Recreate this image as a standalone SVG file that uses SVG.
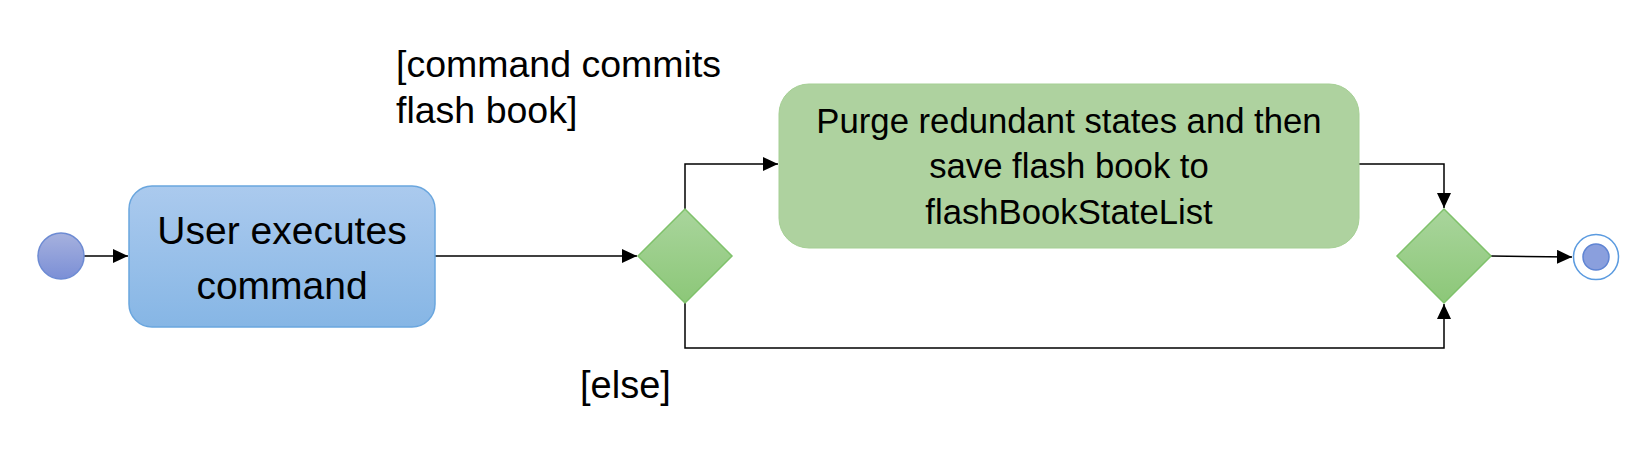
<svg xmlns="http://www.w3.org/2000/svg" width="1650" height="465" viewBox="0 0 1650 465">
<style>
.t{font-family:"Liberation Sans",Arial,sans-serif;fill:#000;}
.c{fill:none;stroke:#000;stroke-width:1.5;}
</style>
<defs>
<marker id="ah" markerWidth="16" markerHeight="14" refX="15" refY="7" orient="auto" markerUnits="userSpaceOnUse">
<path d="M0,0 L15,7 L0,14 Z" fill="#000"/>
</marker>
<linearGradient id="gBlue" x1="0" y1="0" x2="0" y2="1"><stop offset="0" stop-color="#abcaee"/><stop offset="1" stop-color="#86b6e5"/></linearGradient>
<linearGradient id="gStart" x1="0" y1="0" x2="0" y2="1"><stop offset="0" stop-color="#a6b1de"/><stop offset="1" stop-color="#7b8fd6"/></linearGradient>
<linearGradient id="gGreen" x1="0" y1="0" x2="0" y2="1"><stop offset="0" stop-color="#a9d59c"/><stop offset="1" stop-color="#8cc778"/></linearGradient>
</defs>
<g id="connectors">
<path class="c" d="M84,256 L128,256" marker-end="url(#ah)"/>
<path class="c" d="M435,256 L637,256" marker-end="url(#ah)"/>
<path class="c" d="M685,209 L685,164 L778,164" marker-end="url(#ah)"/>
<path class="c" d="M1359,164 L1444,164 L1444,208" marker-end="url(#ah)"/>
<path class="c" d="M685,303 L685,348 L1444,348 L1444,304" marker-end="url(#ah)"/>
<path class="c" d="M1491,256 L1572,257" marker-end="url(#ah)"/>
</g>
<g id="start">
<circle cx="61" cy="256" r="23" fill="url(#gStart)" stroke="#6d8bd3" stroke-width="1.5"/>
</g>
<g id="userExecutes">
<rect x="129" y="186" width="306" height="141" rx="23" fill="url(#gBlue)" stroke="#6aa6de" stroke-width="1.5"/>
<text class="t" x="282" y="244" font-size="39" text-anchor="middle">User executes</text>
<text class="t" x="282" y="299" font-size="39" text-anchor="middle">command</text>
</g>
<g id="decision1">
<polygon points="685,209 732,256 685,303 638,256" fill="url(#gGreen)" stroke="#7fc26b" stroke-width="1.5"/>
</g>
<g id="purge">
<rect x="779" y="84" width="580" height="164" rx="30" fill="#aed29f" stroke="#a5cf94" stroke-width="1"/>
<text class="t" x="1069" y="133" font-size="34.7" text-anchor="middle">Purge redundant states and then</text>
<text class="t" x="1069" y="178" font-size="34.7" text-anchor="middle">save flash book to</text>
<text class="t" x="1069" y="224" font-size="34.7" text-anchor="middle">flashBookStateList</text>
</g>
<g id="merge">
<polygon points="1444,209 1491,256 1444,303 1397,256" fill="url(#gGreen)" stroke="#7fc26b" stroke-width="1.5"/>
</g>
<g id="end">
<circle cx="1596" cy="257" r="22.5" fill="#fff" stroke="#5b9be0" stroke-width="1.5"/>
<circle cx="1596" cy="257" r="13" fill="#8a9fdd" stroke="#5f84d3" stroke-width="1.5"/>
</g>
<g id="labels">
<text class="t" x="396" y="77" font-size="37.5">[command commits</text>
<text class="t" x="396" y="123" font-size="37.5">flash book]</text>
<text class="t" x="580" y="398" font-size="38">[else]</text>
</g>
</svg>
